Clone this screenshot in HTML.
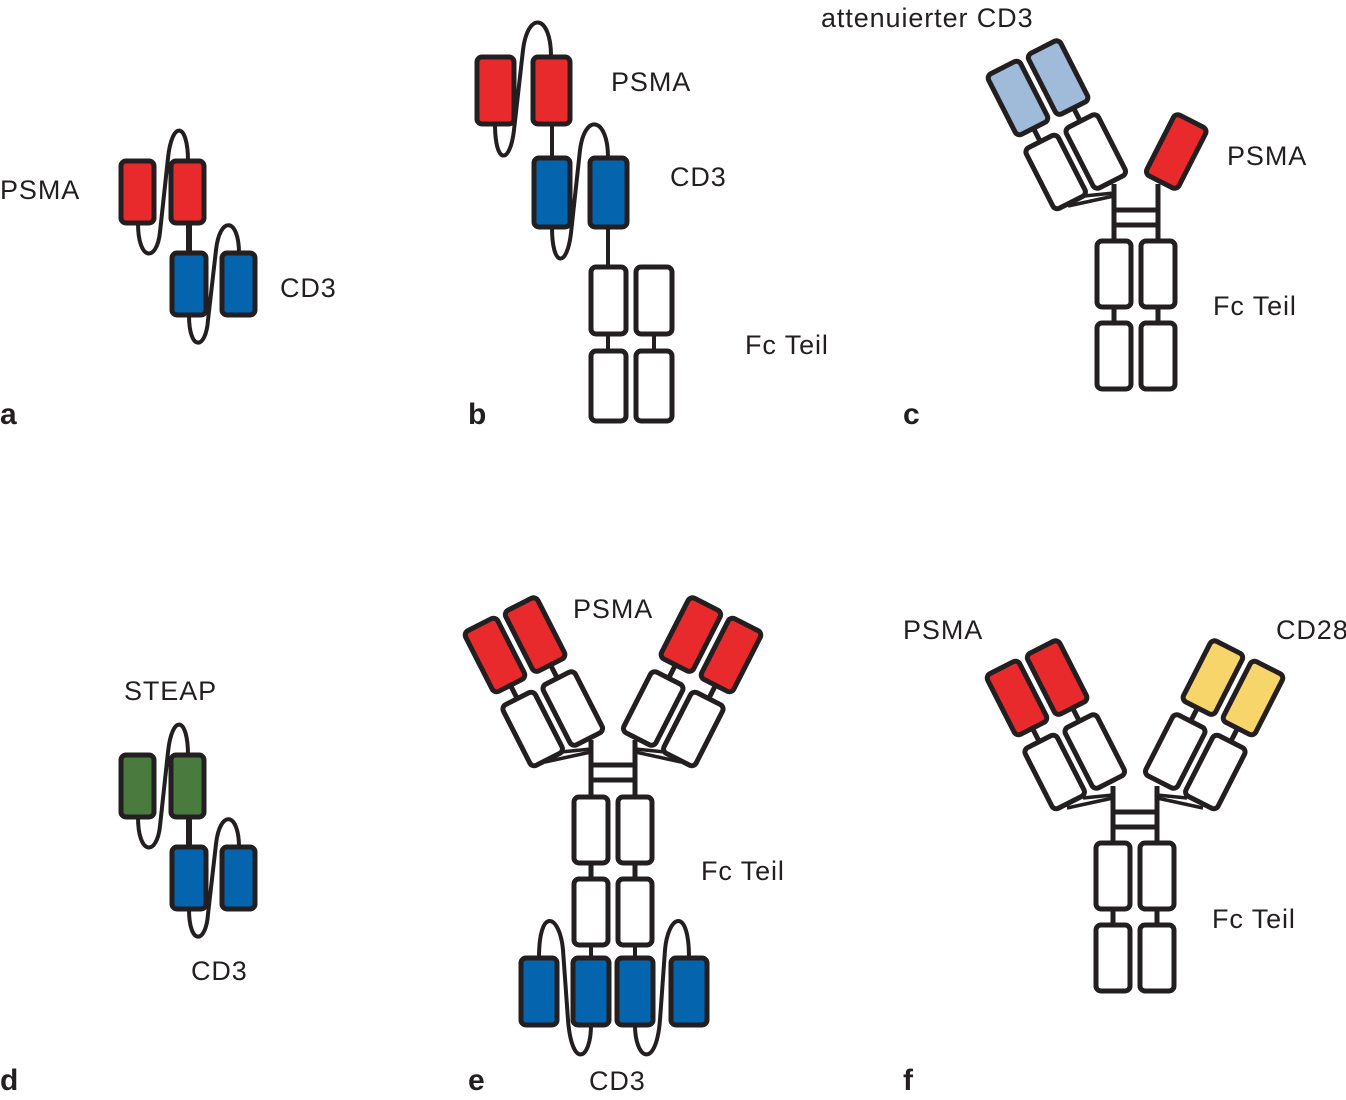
<!DOCTYPE html>
<html><head><meta charset="utf-8"><style>
html,body{margin:0;padding:0;background:#fff}
svg{display:block}
text{font-family:"Liberation Sans",sans-serif;fill:#231f20}
.l{font-size:27px;letter-spacing:0.9px}
.b{font-size:30px;font-weight:bold}
</style></head><body>
<svg width="1346" height="1100" viewBox="0 0 1346 1100" xmlns="http://www.w3.org/2000/svg">
<defs>
<g id="arm" stroke="#231f20" stroke-width="5">
<rect x="-18" y="-34" width="36" height="68" rx="5"/>
<rect x="27" y="-34" width="36" height="68" rx="5"/>
<line x1="0" y1="34" x2="0" y2="49"/><line x1="45" y1="34" x2="45" y2="49"/>
<rect x="-18" y="49" width="36" height="68" rx="5" fill="#fff"/>
<rect x="27" y="49" width="36" height="68" rx="5" fill="#fff"/>
</g>
<g id="half" stroke="#231f20" stroke-width="5" fill="none">
<line x1="-46" y1="-4" x2="0" y2="-14" stroke-width="3.5"/>
<line x1="-30" y1="-14" x2="0" y2="-17" stroke-width="3.5"/>
<line x1="0" y1="-26" x2="0" y2="31"/>
<line x1="0" y1="97" x2="0" y2="113"/>
<rect x="-17" y="31" width="34" height="66" rx="5" fill="#fff"/>
<rect x="-17" y="113" width="34" height="66" rx="5" fill="#fff"/>
</g>
<g id="bars" stroke="#231f20" stroke-width="5">
<line x1="0" y1="0" x2="44" y2="0"/><line x1="0" y1="15" x2="44" y2="15"/>
</g>
<g id="pair" stroke="#231f20" stroke-width="4" fill="none">
<path d="M138,223 C138,262 157,262 160,232 L168,158 C172,120 188,122 188,161"/>
<path d="M189,315 C189,352 206,350 208,320 L216,250 C220,215 239,218 239,253"/>
<line x1="189" y1="223" x2="189" y2="253" stroke-width="6"/>
</g>
</defs>

<!-- a -->
<use href="#pair"/>
<g stroke="#231f20" stroke-width="5">
<rect x="121" y="161" width="33" height="62" rx="5" fill="#e92a2d"/>
<rect x="171" y="161" width="33" height="62" rx="5" fill="#e92a2d"/>
<rect x="172" y="253" width="34" height="62" rx="5" fill="#0465ae"/>
<rect x="222" y="253" width="33" height="62" rx="5" fill="#0465ae"/>
</g>
<!-- d -->
<g transform="translate(0,594)">
<use href="#pair"/>
<g stroke="#231f20" stroke-width="5">
<rect x="121" y="161" width="33" height="62" rx="5" fill="#4a7a3e"/>
<rect x="171" y="161" width="33" height="62" rx="5" fill="#4a7a3e"/>
<rect x="172" y="253" width="34" height="62" rx="5" fill="#0465ae"/>
<rect x="222" y="253" width="33" height="62" rx="5" fill="#0465ae"/>
</g></g>

<!-- b -->
<g stroke="#231f20" stroke-width="4" fill="none">
<path d="M495,124 C495,165 510,165 514,130 L523,50 C528,10 551,15 551,56"/>
<path d="M552,227 C552,268 567,268 571,233 L580,150 C585,112 608,118 608,157"/>
<line x1="552" y1="124" x2="552" y2="157"/>
<line x1="608" y1="227" x2="608" y2="267"/>
<line x1="608" y1="334" x2="608" y2="351"/>
<line x1="654" y1="334" x2="654" y2="351"/>
</g>
<g stroke="#231f20" stroke-width="5">
<rect x="477" y="57" width="37" height="67" rx="5" fill="#e92a2d"/>
<rect x="533" y="57" width="37" height="67" rx="5" fill="#e92a2d"/>
<rect x="534" y="158" width="36" height="69" rx="5" fill="#0465ae"/>
<rect x="590" y="158" width="37" height="69" rx="5" fill="#0465ae"/>
<rect x="591" y="267" width="35" height="67" rx="5" fill="#fff"/>
<rect x="636" y="267" width="36" height="67" rx="5" fill="#fff"/>
<rect x="591" y="351" width="35" height="70" rx="5" fill="#fff"/>
<rect x="636" y="351" width="36" height="70" rx="5" fill="#fff"/>
</g>

<!-- c -->
<g transform="translate(1114,210)">
<use href="#bars"/>
<use href="#arm" fill="#a0bada" transform="translate(-96,-112) rotate(-27)"/>
<use href="#half"/>
<g transform="translate(44,0) scale(-1,1)">
<g stroke="#231f20" stroke-width="5" fill="none">
<line x1="0" y1="-26" x2="0" y2="31"/><line x1="0" y1="97" x2="0" y2="113"/>
<rect x="-17" y="31" width="34" height="66" rx="5" fill="#fff"/>
<rect x="-17" y="113" width="34" height="66" rx="5" fill="#fff"/>
</g>
<g transform="translate(-96,-112) rotate(-27)"><rect x="27" y="49" width="36" height="68" rx="5" fill="#e92a2d" stroke="#231f20" stroke-width="5"/></g>
</g>
</g>

<!-- e -->
<g stroke="#231f20" stroke-width="4" fill="none">
<path d="M539,958 C539,905 560,915 563,950 L568,1020 C572,1070 591,1060 591,1025"/>
<path d="M689,958 C689,905 668,915 665,950 L660,1020 C656,1070 635,1060 635,1025"/>
<line x1="591" y1="946" x2="591" y2="958"/><line x1="635" y1="946" x2="635" y2="958"/>
</g>
<g transform="translate(591,765)">
<use href="#bars"/>
<use href="#arm" fill="#e92a2d" transform="translate(-96,-110) rotate(-27)"/>
<use href="#half" transform="translate(0,1)"/>
<g transform="translate(44,0) scale(-1,1)">
<use href="#arm" fill="#e92a2d" transform="translate(-96,-110) rotate(-27)"/>
<use href="#half" transform="translate(0,1)"/>
</g>
</g>
<g stroke="#231f20" stroke-width="5" fill="#0465ae">
<rect x="521" y="958" width="36" height="67" rx="5"/>
<rect x="573" y="958" width="36" height="67" rx="5"/>
<rect x="617" y="958" width="36" height="67" rx="5"/>
<rect x="671" y="958" width="36" height="67" rx="5"/>
</g>

<!-- f -->
<g transform="translate(1113,812)">
<use href="#bars"/>
<use href="#arm" fill="#e92a2d" transform="translate(-96,-114) rotate(-27)"/>
<use href="#half"/>
<g transform="translate(44,0) scale(-1,1)">
<use href="#arm" fill="#f7d56a" transform="translate(-96,-114) rotate(-27)"/>
<use href="#half"/>
</g>
</g>

<text class="l" x="0" y="199">PSMA</text>
<text class="l" x="280" y="297">CD3</text>
<text class="l" x="611" y="91">PSMA</text>
<text class="l" x="670" y="186">CD3</text>
<text class="l" x="745" y="354">Fc Teil</text>
<text class="l" x="821" y="27">attenuierter CD3</text>
<text class="l" x="1227" y="165">PSMA</text>
<text class="l" x="1213" y="315">Fc Teil</text>
<text class="l" x="124" y="700">STEAP</text>
<text class="l" x="191" y="980">CD3</text>
<text class="l" x="573" y="618">PSMA</text>
<text class="l" x="701" y="880">Fc Teil</text>
<text class="l" x="589" y="1090">CD3</text>
<text class="l" x="903" y="639">PSMA</text>
<text class="l" x="1276" y="639">CD28</text>
<text class="l" x="1212" y="928">Fc Teil</text>
<text class="b" x="0" y="424">a</text>
<text class="b" x="468" y="424">b</text>
<text class="b" x="903" y="424">c</text>
<text class="b" x="0" y="1090">d</text>
<text class="b" x="468" y="1090">e</text>
<text class="b" x="903" y="1090">f</text>
</svg>
</body></html>
